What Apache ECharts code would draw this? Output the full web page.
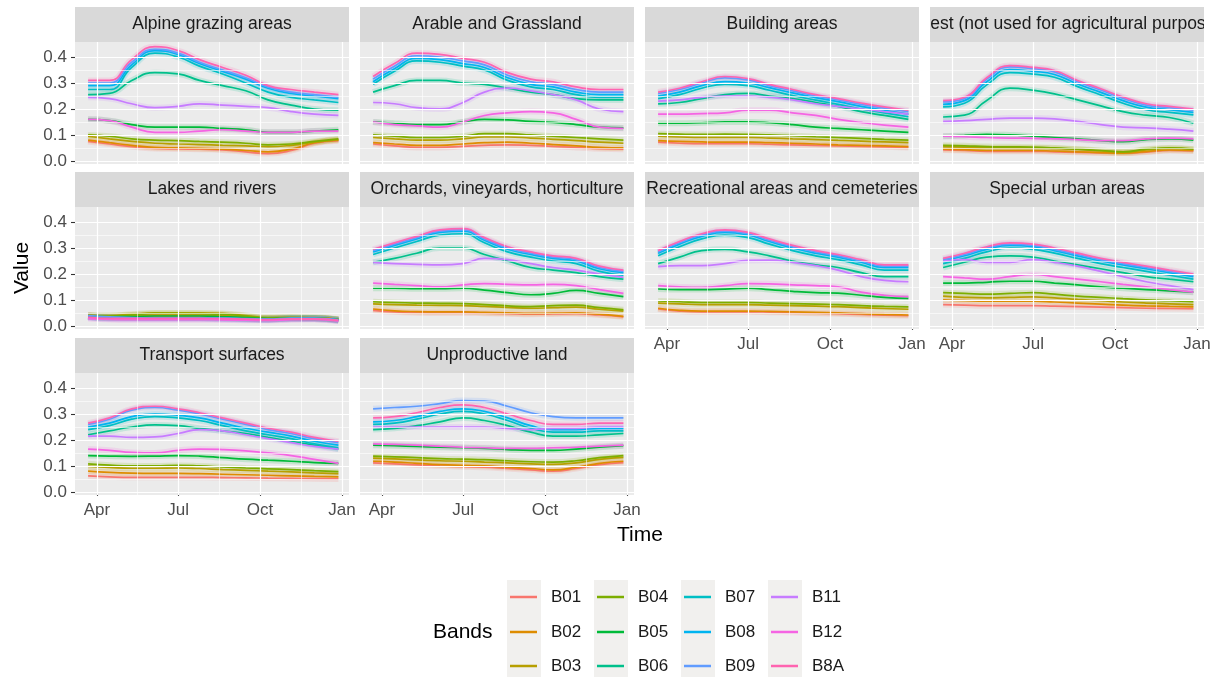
<!DOCTYPE html>
<html><head><meta charset="utf-8">
<script src="https://cdn.jsdelivr.net/npm/echarts@6/dist/echarts.min.js"></script>
<style>html,body{margin:0;padding:0;background:#fff}#c{width:1220px;height:677px}</style>
</head><body><div id="c"></div>
<script>
const bands = ['B01','B02','B03','B04','B05','B06','B07','B08','B09','B11','B12','B8A'];
const bandColors = ['#F8766D','#DE8C00','#B79F00','#7CAE00','#00BA38','#00C08B','#00BFC4','#00B4F0','#619CFF','#C77CFF','#F564E3','#FF64B0'];
const facets = ['Alpine grazing areas','Arable and Grassland','Building areas','Forest (not used for agricultural purposes)','Lakes and rivers','Orchards, vineyards, horticulture','Recreational areas and cemeteries','Special urban areas','Transport surfaces','Unproductive land'];
const dates = ['2019-03-22','2019-04-15','2019-05-10','2019-06-05','2019-07-01','2019-07-25','2019-08-20','2019-09-15','2019-10-10','2019-11-05','2019-12-01','2019-12-28'];
const monthTicks = ['2019-04-01','2019-07-01','2019-10-01','2020-01-01'];
const monthLabels = ['Apr','Jul','Oct','Jan'];
const minorMonthTicks = ['2019-05-16','2019-08-16','2019-11-16'];
const valueTicks = [0, 0.1, 0.2, 0.3, 0.4];
const valueMinorTicks = [0.05, 0.15, 0.25, 0.35];

// rows: B01,B02,B03,B04,B05,B06,B07,B08,B09,B11,B12,B8A
const alpine = [
 [0.075,0.065,0.055,0.048,0.046,0.045,0.042,0.035,0.028,0.040,0.068,0.078],
 [0.080,0.070,0.060,0.052,0.050,0.048,0.045,0.040,0.035,0.045,0.070,0.080],
 [0.095,0.085,0.075,0.068,0.065,0.063,0.060,0.058,0.055,0.060,0.072,0.082],
 [0.100,0.095,0.085,0.080,0.078,0.075,0.072,0.068,0.062,0.065,0.075,0.085],
 [0.160,0.155,0.140,0.130,0.130,0.130,0.125,0.120,0.110,0.110,0.115,0.120],
 [0.255,0.260,0.310,0.340,0.335,0.310,0.290,0.270,0.235,0.215,0.200,0.195],
 [0.275,0.275,0.360,0.415,0.400,0.365,0.335,0.300,0.265,0.245,0.235,0.225],
 [0.290,0.290,0.370,0.425,0.410,0.375,0.345,0.315,0.280,0.260,0.250,0.240],
 [0.300,0.300,0.380,0.430,0.415,0.380,0.350,0.320,0.285,0.265,0.255,0.245],
 [0.245,0.240,0.220,0.205,0.210,0.220,0.215,0.210,0.205,0.190,0.180,0.175],
 [0.160,0.155,0.130,0.110,0.110,0.115,0.120,0.115,0.110,0.110,0.115,0.115],
 [0.310,0.310,0.390,0.440,0.425,0.390,0.360,0.330,0.290,0.275,0.265,0.255]
];
const arable = [
 [0.065,0.058,0.052,0.052,0.056,0.060,0.062,0.060,0.056,0.052,0.047,0.045],
 [0.070,0.065,0.060,0.060,0.065,0.070,0.072,0.068,0.063,0.058,0.052,0.050],
 [0.090,0.085,0.080,0.080,0.085,0.092,0.092,0.088,0.083,0.078,0.072,0.068],
 [0.100,0.095,0.090,0.090,0.095,0.105,0.105,0.100,0.095,0.090,0.085,0.080],
 [0.150,0.145,0.140,0.140,0.150,0.160,0.158,0.152,0.148,0.140,0.130,0.127],
 [0.265,0.290,0.310,0.310,0.300,0.295,0.280,0.265,0.255,0.240,0.235,0.235],
 [0.295,0.345,0.385,0.380,0.365,0.350,0.310,0.285,0.275,0.255,0.245,0.245],
 [0.305,0.355,0.395,0.390,0.375,0.360,0.320,0.295,0.285,0.265,0.255,0.255],
 [0.315,0.365,0.405,0.400,0.385,0.370,0.330,0.305,0.295,0.275,0.265,0.265],
 [0.225,0.220,0.205,0.200,0.225,0.265,0.280,0.270,0.255,0.235,0.200,0.190],
 [0.150,0.140,0.135,0.130,0.150,0.175,0.185,0.190,0.185,0.160,0.130,0.125],
 [0.325,0.375,0.415,0.410,0.395,0.380,0.340,0.315,0.305,0.285,0.275,0.275]
];
const building = [
 [0.072,0.068,0.066,0.066,0.066,0.064,0.062,0.060,0.058,0.056,0.054,0.052],
 [0.078,0.075,0.073,0.072,0.072,0.070,0.068,0.065,0.062,0.060,0.058,0.055],
 [0.095,0.092,0.090,0.090,0.090,0.088,0.085,0.082,0.079,0.076,0.073,0.070],
 [0.105,0.103,0.102,0.103,0.102,0.100,0.097,0.093,0.090,0.087,0.083,0.080],
 [0.145,0.145,0.147,0.150,0.150,0.147,0.140,0.130,0.125,0.120,0.115,0.110],
 [0.220,0.225,0.240,0.255,0.260,0.250,0.240,0.225,0.210,0.190,0.175,0.160],
 [0.240,0.255,0.280,0.295,0.290,0.272,0.252,0.234,0.218,0.200,0.185,0.170],
 [0.250,0.265,0.290,0.305,0.300,0.282,0.262,0.244,0.228,0.210,0.195,0.180],
 [0.260,0.275,0.300,0.320,0.312,0.290,0.270,0.250,0.235,0.218,0.203,0.190],
 [0.230,0.235,0.245,0.250,0.250,0.245,0.235,0.220,0.210,0.200,0.190,0.180],
 [0.180,0.180,0.182,0.185,0.195,0.195,0.185,0.175,0.160,0.148,0.138,0.130],
 [0.265,0.280,0.305,0.325,0.317,0.295,0.275,0.255,0.240,0.223,0.208,0.195]
];
const forest = [
 [0.042,0.040,0.037,0.037,0.037,0.035,0.033,0.031,0.030,0.034,0.040,0.038],
 [0.045,0.043,0.040,0.040,0.040,0.038,0.035,0.032,0.030,0.036,0.042,0.040],
 [0.055,0.053,0.050,0.050,0.050,0.048,0.044,0.038,0.034,0.042,0.048,0.044],
 [0.060,0.058,0.055,0.054,0.053,0.050,0.045,0.040,0.035,0.045,0.050,0.045],
 [0.095,0.098,0.102,0.100,0.095,0.090,0.085,0.078,0.074,0.082,0.085,0.080],
 [0.169,0.176,0.233,0.280,0.272,0.258,0.235,0.212,0.190,0.176,0.167,0.145],
 [0.208,0.222,0.293,0.340,0.334,0.322,0.286,0.254,0.222,0.197,0.187,0.177],
 [0.218,0.232,0.305,0.352,0.345,0.333,0.296,0.264,0.232,0.207,0.197,0.187],
 [0.227,0.240,0.315,0.362,0.355,0.343,0.305,0.273,0.241,0.215,0.205,0.195],
 [0.152,0.155,0.160,0.165,0.165,0.162,0.152,0.140,0.130,0.127,0.122,0.115],
 [0.095,0.093,0.090,0.088,0.087,0.085,0.082,0.078,0.078,0.085,0.088,0.085],
 [0.232,0.245,0.320,0.367,0.360,0.348,0.310,0.278,0.246,0.220,0.210,0.200]
];
const lakes = [
 [0.040,0.035,0.035,0.035,0.035,0.035,0.032,0.030,0.028,0.030,0.030,0.025],
 [0.040,0.038,0.040,0.042,0.042,0.042,0.040,0.035,0.030,0.030,0.030,0.025],
 [0.042,0.040,0.045,0.050,0.050,0.050,0.048,0.040,0.032,0.033,0.032,0.026],
 [0.040,0.038,0.042,0.048,0.048,0.047,0.045,0.038,0.030,0.032,0.030,0.025],
 [0.038,0.035,0.036,0.038,0.038,0.038,0.036,0.032,0.028,0.030,0.030,0.024],
 [0.035,0.030,0.030,0.030,0.030,0.030,0.029,0.027,0.025,0.028,0.028,0.022],
 [0.035,0.030,0.030,0.030,0.030,0.030,0.029,0.027,0.025,0.028,0.028,0.022],
 [0.033,0.028,0.028,0.028,0.028,0.028,0.027,0.025,0.024,0.027,0.027,0.021],
 [0.040,0.035,0.032,0.030,0.030,0.030,0.030,0.028,0.026,0.030,0.030,0.024],
 [0.030,0.027,0.026,0.026,0.026,0.026,0.025,0.024,0.023,0.026,0.027,0.020],
 [0.028,0.025,0.024,0.024,0.024,0.024,0.023,0.022,0.021,0.024,0.025,0.019],
 [0.034,0.029,0.029,0.029,0.029,0.029,0.028,0.026,0.024,0.027,0.027,0.021]
];
const orchards = [
 [0.060,0.054,0.051,0.050,0.050,0.049,0.047,0.045,0.046,0.047,0.042,0.035],
 [0.065,0.058,0.055,0.054,0.054,0.052,0.050,0.048,0.049,0.050,0.045,0.037],
 [0.085,0.082,0.080,0.079,0.078,0.075,0.071,0.068,0.070,0.072,0.064,0.057],
 [0.093,0.090,0.088,0.087,0.086,0.082,0.077,0.074,0.078,0.080,0.070,0.062],
 [0.145,0.145,0.143,0.143,0.145,0.138,0.128,0.120,0.125,0.137,0.125,0.113],
 [0.245,0.260,0.280,0.300,0.300,0.275,0.250,0.225,0.215,0.205,0.190,0.180],
 [0.275,0.300,0.325,0.350,0.355,0.320,0.285,0.265,0.250,0.240,0.210,0.195],
 [0.285,0.310,0.335,0.360,0.365,0.330,0.295,0.275,0.260,0.250,0.220,0.205],
 [0.290,0.315,0.340,0.365,0.370,0.335,0.300,0.280,0.265,0.255,0.225,0.210],
 [0.245,0.240,0.237,0.235,0.240,0.260,0.255,0.240,0.225,0.215,0.200,0.187],
 [0.165,0.160,0.155,0.150,0.158,0.163,0.160,0.158,0.160,0.155,0.140,0.125],
 [0.295,0.320,0.345,0.370,0.375,0.340,0.305,0.285,0.270,0.260,0.230,0.215]
];
const recreational = [
 [0.065,0.057,0.054,0.054,0.054,0.053,0.051,0.049,0.047,0.044,0.041,0.039],
 [0.068,0.060,0.057,0.057,0.057,0.056,0.054,0.052,0.050,0.047,0.044,0.042],
 [0.088,0.085,0.082,0.082,0.082,0.080,0.078,0.076,0.074,0.070,0.067,0.064],
 [0.096,0.093,0.090,0.090,0.090,0.088,0.086,0.084,0.082,0.078,0.075,0.073],
 [0.142,0.140,0.140,0.142,0.145,0.140,0.133,0.128,0.126,0.118,0.110,0.106],
 [0.240,0.265,0.290,0.295,0.285,0.270,0.250,0.235,0.225,0.205,0.190,0.190],
 [0.270,0.305,0.335,0.350,0.340,0.315,0.290,0.270,0.255,0.235,0.215,0.215],
 [0.280,0.315,0.345,0.360,0.350,0.325,0.300,0.280,0.265,0.245,0.225,0.225],
 [0.285,0.320,0.350,0.365,0.355,0.330,0.305,0.285,0.270,0.250,0.230,0.230],
 [0.228,0.232,0.232,0.240,0.252,0.253,0.245,0.232,0.215,0.190,0.175,0.170],
 [0.155,0.150,0.148,0.155,0.163,0.162,0.158,0.155,0.150,0.130,0.118,0.113],
 [0.290,0.325,0.355,0.370,0.360,0.335,0.310,0.290,0.275,0.255,0.235,0.235]
];
const specialUrban = [
 [0.082,0.080,0.078,0.078,0.078,0.076,0.074,0.072,0.070,0.068,0.067,0.066],
 [0.100,0.097,0.095,0.095,0.095,0.092,0.088,0.084,0.080,0.077,0.075,0.073],
 [0.115,0.110,0.108,0.110,0.112,0.108,0.102,0.097,0.092,0.088,0.085,0.082],
 [0.128,0.125,0.122,0.125,0.128,0.122,0.115,0.110,0.105,0.100,0.097,0.093],
 [0.165,0.165,0.168,0.172,0.172,0.165,0.158,0.150,0.145,0.140,0.135,0.130],
 [0.225,0.245,0.265,0.270,0.265,0.250,0.235,0.220,0.205,0.190,0.180,0.170],
 [0.240,0.260,0.285,0.300,0.295,0.280,0.260,0.240,0.225,0.210,0.195,0.180],
 [0.250,0.270,0.295,0.310,0.305,0.290,0.270,0.250,0.235,0.220,0.205,0.190],
 [0.255,0.275,0.300,0.315,0.310,0.295,0.275,0.255,0.240,0.225,0.210,0.195],
 [0.250,0.255,0.245,0.245,0.255,0.245,0.230,0.210,0.190,0.170,0.155,0.140],
 [0.190,0.185,0.180,0.190,0.198,0.190,0.180,0.170,0.160,0.150,0.140,0.130],
 [0.260,0.280,0.305,0.320,0.315,0.300,0.280,0.260,0.245,0.230,0.215,0.200]
];
const transport = [
 [0.062,0.058,0.056,0.056,0.056,0.056,0.055,0.054,0.053,0.052,0.051,0.050],
 [0.080,0.075,0.072,0.071,0.071,0.070,0.068,0.066,0.064,0.062,0.060,0.058],
 [0.098,0.094,0.091,0.091,0.092,0.090,0.086,0.083,0.080,0.077,0.073,0.070],
 [0.108,0.103,0.100,0.100,0.102,0.100,0.096,0.092,0.089,0.086,0.082,0.078],
 [0.140,0.138,0.137,0.138,0.140,0.138,0.132,0.126,0.122,0.118,0.113,0.110],
 [0.220,0.235,0.250,0.258,0.255,0.245,0.235,0.225,0.210,0.195,0.180,0.165],
 [0.240,0.255,0.280,0.290,0.285,0.275,0.255,0.235,0.220,0.205,0.185,0.170],
 [0.250,0.265,0.290,0.300,0.295,0.285,0.265,0.245,0.230,0.215,0.195,0.180],
 [0.260,0.280,0.315,0.325,0.315,0.300,0.280,0.260,0.240,0.225,0.205,0.190],
 [0.215,0.215,0.210,0.212,0.225,0.240,0.235,0.220,0.205,0.190,0.175,0.165],
 [0.165,0.160,0.152,0.150,0.160,0.165,0.163,0.158,0.150,0.140,0.125,0.110],
 [0.265,0.285,0.320,0.330,0.320,0.305,0.285,0.265,0.245,0.230,0.210,0.195]
];
const unproductive = [
 [0.112,0.108,0.104,0.100,0.097,0.095,0.090,0.085,0.080,0.090,0.105,0.113],
 [0.118,0.115,0.110,0.105,0.102,0.100,0.095,0.090,0.085,0.095,0.110,0.118],
 [0.130,0.127,0.123,0.120,0.118,0.115,0.112,0.108,0.106,0.112,0.125,0.133],
 [0.138,0.135,0.132,0.128,0.126,0.124,0.120,0.116,0.115,0.120,0.132,0.140],
 [0.180,0.178,0.175,0.172,0.170,0.168,0.163,0.160,0.160,0.165,0.172,0.178],
 [0.240,0.245,0.255,0.270,0.285,0.275,0.255,0.230,0.215,0.215,0.220,0.225],
 [0.260,0.265,0.280,0.300,0.310,0.300,0.275,0.245,0.230,0.230,0.235,0.235],
 [0.270,0.275,0.290,0.310,0.320,0.310,0.285,0.255,0.240,0.240,0.245,0.245],
 [0.320,0.325,0.330,0.340,0.352,0.350,0.330,0.305,0.290,0.285,0.285,0.285],
 [0.250,0.250,0.250,0.250,0.250,0.250,0.245,0.240,0.245,0.245,0.250,0.250],
 [0.185,0.183,0.180,0.176,0.172,0.170,0.168,0.168,0.170,0.172,0.176,0.180],
 [0.285,0.290,0.305,0.325,0.335,0.325,0.300,0.275,0.260,0.260,0.265,0.265]
];
const facetData = [alpine, arable, building, forest, lakes, orchards, recreational, specialUrban, transport, unproductive];

const dayOf = s => { const p = s.split('-').map(Number); return Math.round((Date.UTC(p[0], p[1]-1, p[2]) - Date.UTC(2019,0,1)) / 864e5); };
const xs = dates.map(dayOf);
const majorX = monthTicks.map(dayOf);
const minorX = minorMonthTicks.map(dayOf);

const FONT = '"Liberation Sans", Arial, sans-serif';
const colLeft = [75, 360, 645, 930], rowTop = [42, 207, 373];
const PW = 274, PH = 122, STRIP = 35;
const X_MIN = 65.3, X_MAX = 372.9, Y_MIN = -0.012, Y_MAX = 0.458;

const grids = [], xAxes = [], yAxes = [], series = [], graphics = [];
facets.forEach((name, i) => {
  const r = Math.floor(i / 4), c = i % 4;
  const showX = i >= 6, showY = c === 0;
  grids.push({ left: colLeft[c], top: rowTop[r], width: PW, height: PH, show: true, backgroundColor: '#EBEBEB', borderWidth: 0, containLabel: false, outerBoundsMode: 'none' });
  xAxes.push({ type: 'value', gridIndex: i, min: X_MIN, max: X_MAX, axisLine: { show: false }, splitLine: { show: false },
    axisTick: { show: showX, customValues: majorX, length: 4, lineStyle: { color: '#333333', width: 1.1 } },
    axisLabel: { show: showX, customValues: majorX, formatter: v => monthLabels[majorX.indexOf(Math.round(v))] || '', fontSize: 17, color: '#4D4D4D', margin: 7, fontFamily: FONT } });
  yAxes.push({ type: 'value', gridIndex: i, min: Y_MIN, max: Y_MAX, axisLine: { show: false }, splitLine: { show: false },
    axisTick: { show: showY, customValues: valueTicks, length: 4, lineStyle: { color: '#333333', width: 1.1 } },
    axisLabel: { show: showY, customValues: valueTicks, formatter: v => v.toFixed(1), fontSize: 17, color: '#4D4D4D', margin: 8, fontFamily: FONT } });
  const ml = [];
  minorX.forEach(v => ml.push({ xAxis: v, lineStyle: { color: '#FFFFFF', width: 0.6, type: 'solid' } }));
  valueMinorTicks.forEach(v => ml.push({ yAxis: v, lineStyle: { color: '#FFFFFF', width: 0.6, type: 'solid' } }));
  majorX.forEach(v => ml.push({ xAxis: v, lineStyle: { color: '#FFFFFF', width: 1.2, type: 'solid' } }));
  valueTicks.forEach(v => ml.push({ yAxis: v, lineStyle: { color: '#FFFFFF', width: 1.2, type: 'solid' } }));
  series.push({ type: 'line', name: 'grid' + i, xAxisIndex: i, yAxisIndex: i, data: [], z: 1, silent: true,
    markLine: { silent: true, symbol: ['none', 'none'], animation: false, label: { show: false }, emphasis: { disabled: true }, data: ml } });
  bands.forEach((b, k) => {
    const pts = xs.map((x, j) => [x, facetData[i][k][j]]);
    series.push({ type: 'line', name: b + ' ribbon', xAxisIndex: i, yAxisIndex: i, data: pts, smooth: true, showSymbol: false, symbol: 'none', silent: true, z: 2,
      lineStyle: { color: bandColors[k], width: 6, opacity: 0.16 }, itemStyle: { color: bandColors[k] } });
    series.push({ type: 'line', name: b, xAxisIndex: i, yAxisIndex: i, data: pts, smooth: true, showSymbol: false, symbol: 'none', silent: true, z: 3,
      lineStyle: { color: bandColors[k], width: 1.7 }, itemStyle: { color: bandColors[k] } });
  });
  graphics.push({ type: 'rect', z: 10, shape: { x: colLeft[c], y: rowTop[r] - STRIP, width: PW, height: STRIP }, style: { fill: '#D9D9D9' } });
  graphics.push({ type: 'text', z: 11, style: { text: name, x: colLeft[c] + PW / 2, y: rowTop[r] - STRIP / 2, align: 'center', verticalAlign: 'middle', textAlign: 'center', textVerticalAlign: 'middle', font: '17.5px ' + FONT, fill: '#1A1A1A' } });
});
graphics.push({ type: 'rect', z: 12, shape: { x: 898, y: rowTop[0] - STRIP, width: 21, height: STRIP }, style: { fill: '#D9D9D9' } });
graphics.push({ type: 'rect', z: 12, shape: { x: 919, y: rowTop[0] - STRIP, width: 11, height: STRIP }, style: { fill: '#FFFFFF' } });
graphics.push({ type: 'rect', z: 12, shape: { x: 1204, y: rowTop[0] - STRIP, width: 16, height: STRIP }, style: { fill: '#FFFFFF' } });
graphics.push({ type: 'text', z: 11, x: 640, y: 535, style: { text: 'Time', x: 0, y: 0, align: 'center', verticalAlign: 'middle', textAlign: 'center', textVerticalAlign: 'middle', font: '21px ' + FONT, fill: '#000000' } });
graphics.push({ type: 'text', z: 11, x: 22, y: 268, rotation: Math.PI / 2, style: { text: 'Value', x: 0, y: 0, align: 'center', verticalAlign: 'middle', textAlign: 'center', textVerticalAlign: 'middle', font: '21px ' + FONT, fill: '#000000' } });
const legX = [510, 597, 684, 771], legY = [597, 632, 666];
graphics.push({ type: 'text', z: 11, style: { text: 'Bands', x: 433, y: 632, align: 'left', verticalAlign: 'middle', textAlign: 'left', textVerticalAlign: 'middle', font: '21px ' + FONT, fill: '#000000' } });
legX.forEach(x => graphics.push({ type: 'rect', z: 0, shape: { x: x - 3, y: 580, width: 34, height: 104 }, style: { fill: '#F1F0EE' } }));
const legends = bands.map((b, k) => ({
  data: [b], left: legX[Math.floor(k / 3)], top: legY[k % 3] - 10, orient: 'horizontal', icon: 'rect', itemWidth: 27, itemHeight: 2.5, itemGap: 0, padding: 0,
  selectedMode: false, textStyle: { fontSize: 17, color: '#1A1A1A', fontFamily: FONT, padding: [0, 0, 0, 9], lineHeight: 20 }
}));

const chart = echarts.init(document.getElementById('c'), null, { renderer: 'canvas' });
chart.setOption({ animation: false, backgroundColor: '#FFFFFF', textStyle: { fontFamily: FONT }, grid: grids, xAxis: xAxes, yAxis: yAxes, series, graphic: graphics, legend: legends, tooltip: { show: false } });
</script></body></html>
